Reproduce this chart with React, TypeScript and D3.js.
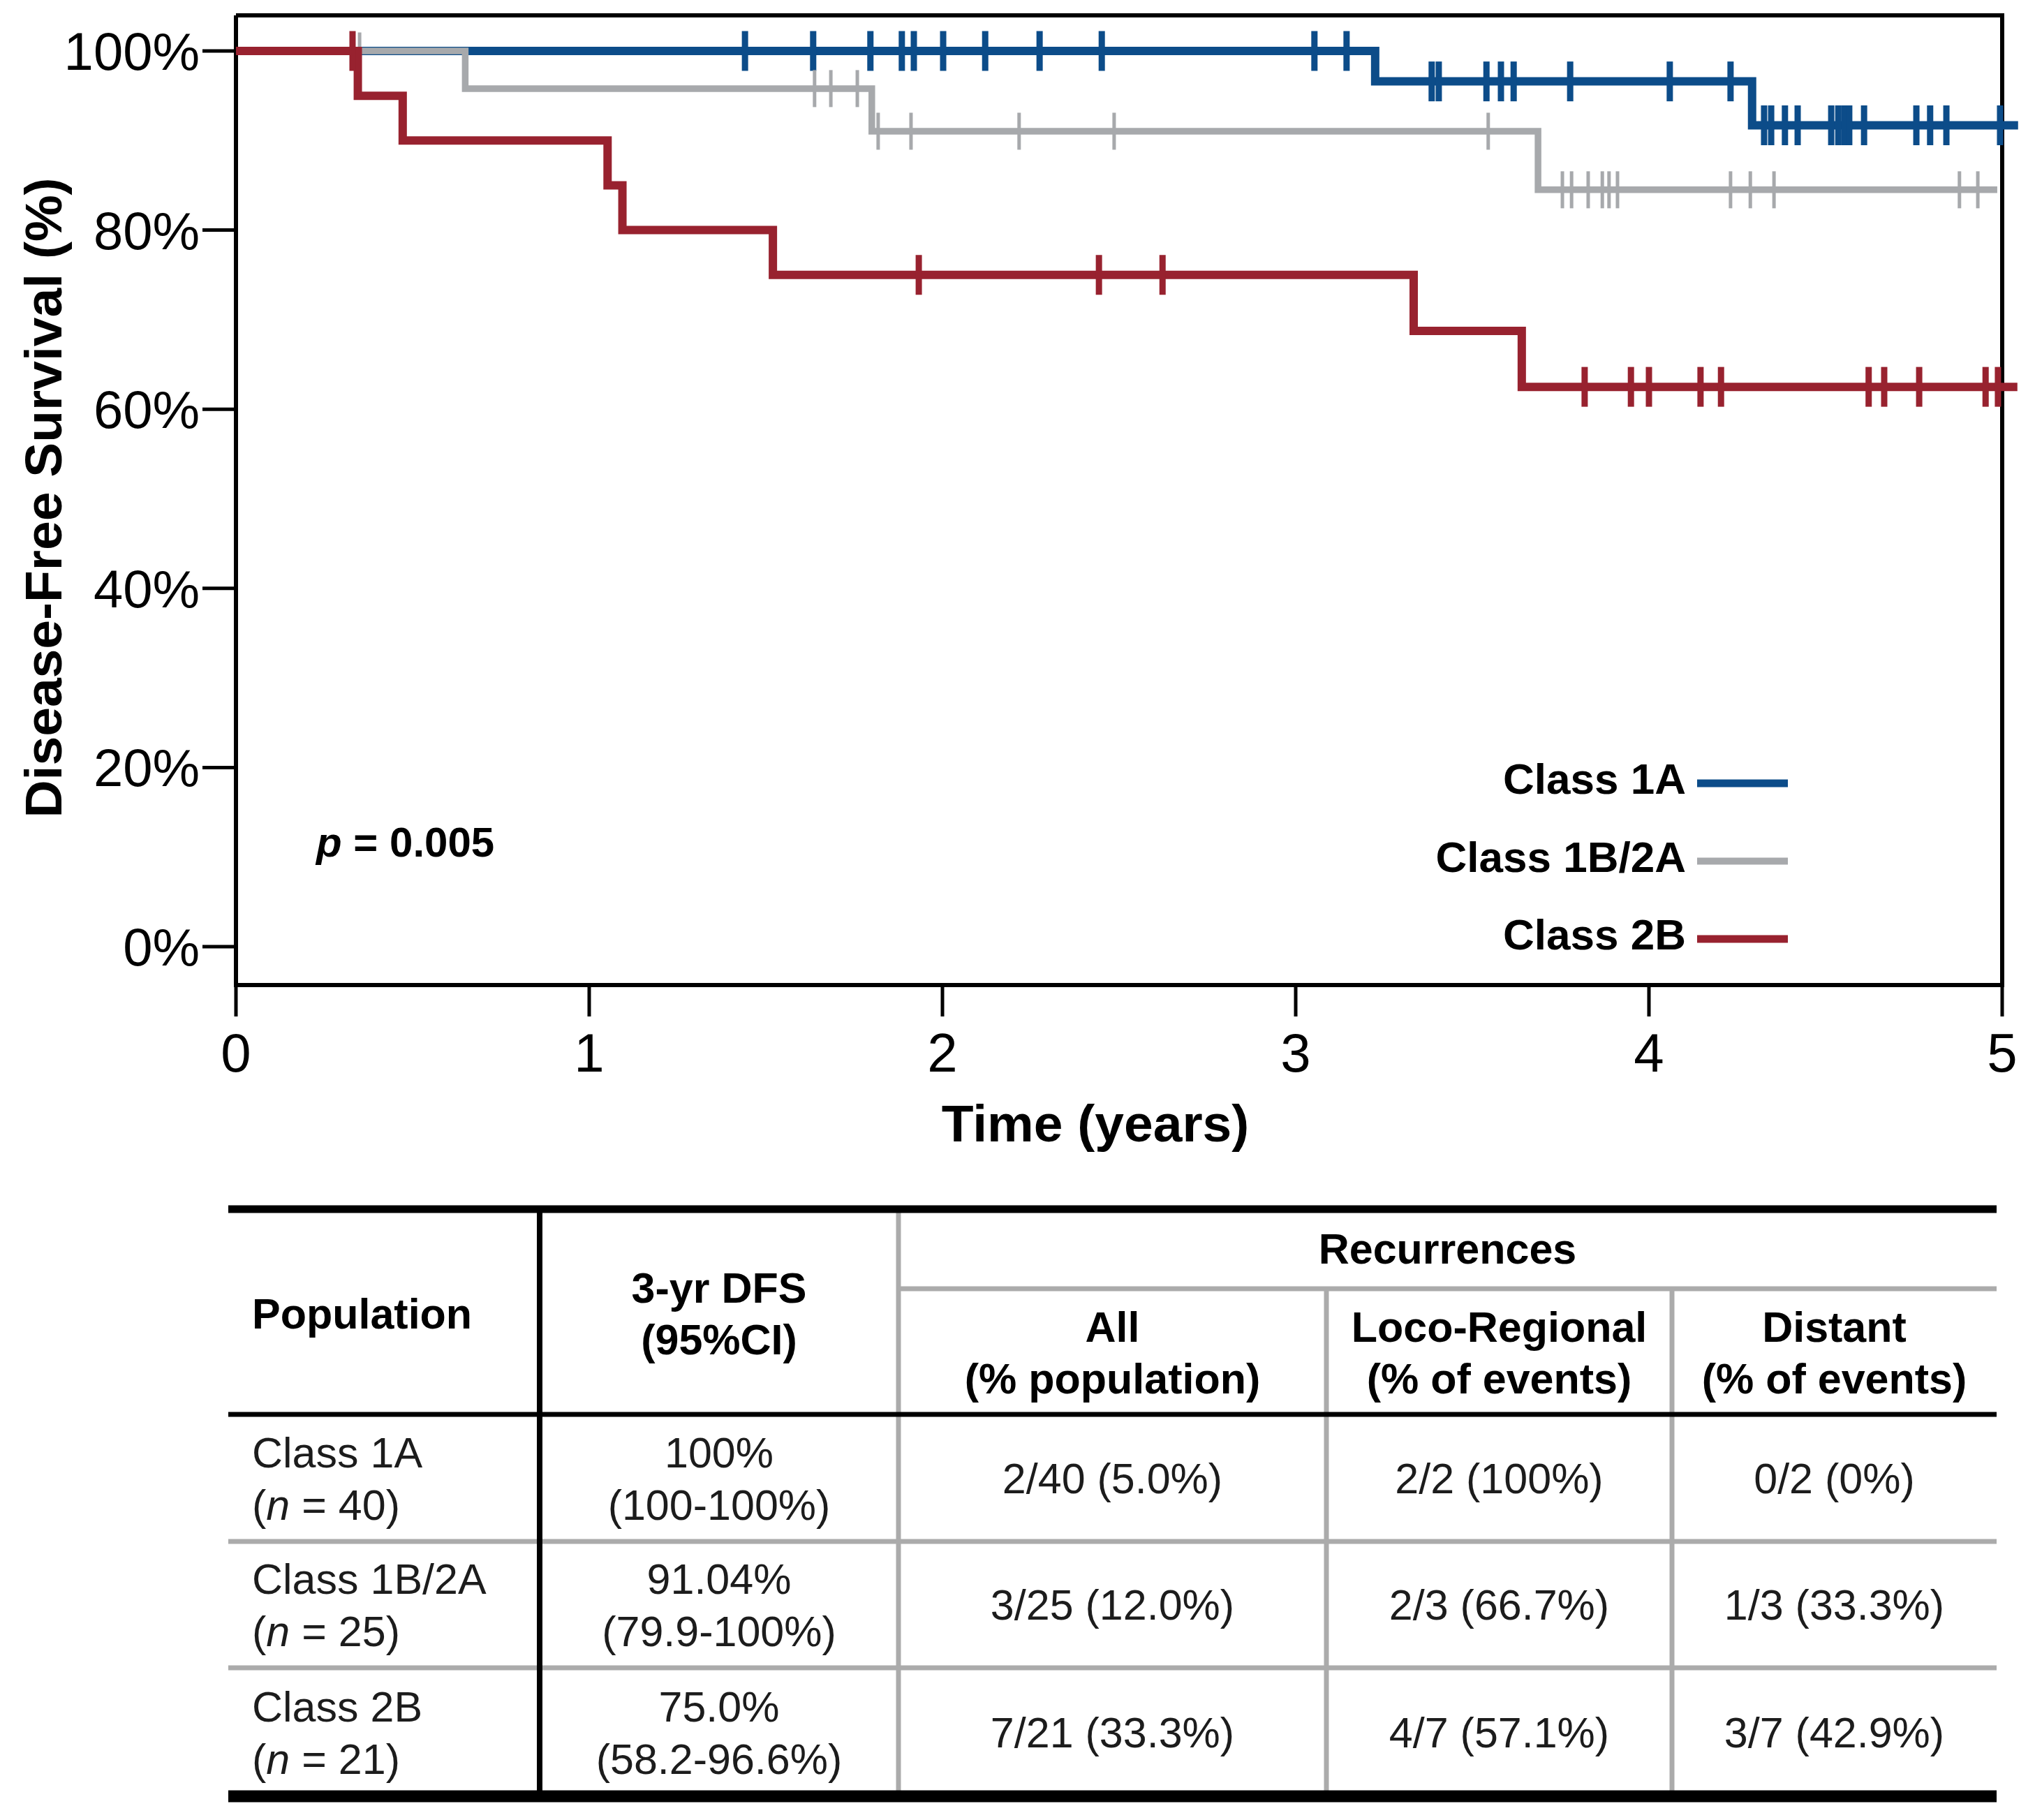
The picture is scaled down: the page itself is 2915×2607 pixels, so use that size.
import { useEffect } from 'react'
import * as d3 from 'd3'

// Kaplan-Meier steps: drop time (years) and survival (%) after it
const stepTimes1A = [0, 3.225, 4.292]
const stepSurv1A = [100, 96.6, 91.7]
const censor1A = [
  1.441, 1.634, 1.796, 1.885, 1.919, 2.002, 2.121, 2.275, 2.451, 3.053, 3.144,
  3.385, 3.405, 3.54, 3.581, 3.617, 3.777, 4.059, 4.231,
  4.326, 4.346, 4.385, 4.421, 4.516, 4.536, 4.553, 4.567, 4.609, 4.757, 4.796, 4.842, 4.994
]
const end1A = 5.045

const stepTimes1B = [0, 0.649, 1.8, 3.686]
const stepSurv1B = [100, 95.8, 91.04, 84.5]
const censor1B = [
  0.35, 1.638, 1.684, 1.759, 1.818, 1.911, 2.217, 2.486, 3.545,
  3.755, 3.781, 3.828, 3.868, 3.887, 3.911, 4.231, 4.287, 4.354, 4.879, 4.931
]
const end1B = 4.986

const stepTimes2B = [0, 0.345, 0.472, 1.052, 1.094, 1.52, 3.334, 3.64]
const stepSurv2B = [100, 95, 90, 85, 80, 75, 68.75, 62.5]
const censor2B = [
  0.33, 1.933, 2.443, 2.623, 3.818, 3.949, 4.0, 4.146, 4.204,
  4.622, 4.666, 4.765, 4.953, 4.988
]
const end2B = 5.043

const xTicks = [0, 1, 2, 3, 4, 5]
const yTicks = [0, 20, 40, 60, 80, 100]

const legendNames = ['Class 1A', 'Class 1B/2A', 'Class 2B']

// table
const populations = ['Class 1A', 'Class 1B/2A', 'Class 2B']
const populationN = ['40', '25', '21']
const dfs3yr = ['100%', '91.04%', '75.0%']
const dfsCI = ['(100-100%)', '(79.9-100%)', '(58.2-96.6%)']
const recAll = ['2/40 (5.0%)', '3/25 (12.0%)', '7/21 (33.3%)']
const recLoco = ['2/2 (100%)', '2/3 (66.7%)', '4/7 (57.1%)']
const recDistant = ['0/2 (0%)', '1/3 (33.3%)', '3/7 (42.9%)']

const FONT = '"Liberation Sans", Arial, sans-serif'
const BLUE = '#0c4c89'
const GRAY = '#a7a9ac'
const RED = '#98222f'
const TGRAY = '#ababab'

interface Series {
  times: number[]
  surv: number[]
  censor: number[]
  end: number
  color: string
  width: number
  tickW: number
  tickH: number
}

const series: Series[] = [
  { times: stepTimes1A, surv: stepSurv1A, censor: censor1A, end: end1A, color: BLUE, width: 12, tickW: 9, tickH: 57 },
  { times: stepTimes1B, surv: stepSurv1B, censor: censor1B, end: end1B, color: GRAY, width: 9.5, tickW: 5, tickH: 53 },
  { times: stepTimes2B, surv: stepSurv2B, censor: censor2B, end: end2B, color: RED, width: 12, tickW: 9, tickH: 57 }
]

const W = 2915
const H = 2607

export default function App() {
  useEffect(() => {
    document.body.style.margin = '0'
  }, [])

  const x = d3.scaleLinear().domain([0, 5]).range([338, 2868])
  const y = d3.scaleLinear().domain([0, 100]).range([1356, 73])
  const plotTop = 22
  const plotBottom = 1411

  const line = d3
    .line<[number, number]>()
    .x(d => x(d[0]))
    .y(d => y(d[1]))
    .curve(d3.curveStepAfter)

  const survAt = (s: Series, t: number) => {
    let v = s.surv[0]
    s.times.forEach((tt, i) => {
      if (tt <= t) v = s.surv[i]
    })
    return v
  }

  // table geometry
  const tL = 327
  const tR = 2860
  const colX = [327, 773, 1287, 1900, 2395, 2860]
  const tTop = 1732
  const subTop = 1846
  const headBottom = 2026
  const rowLines = [2026, 2208, 2389, 2573]
  const fs = 61
  const half = fs * 0.36
  const colC = (i: number) => (colX[i] + colX[i + 1]) / 2

  return (
    <svg width={W} height={H} viewBox={`0 0 ${W} ${H}`} style={{ display: 'block', background: '#fff' }} fontFamily={FONT}>
      <rect width={W} height={H} fill="#fff" />

      {/* frame */}
      <g stroke="#000" strokeWidth={6} fill="none">
        <line x1={x(0)} x2={x(5) + 3} y1={plotTop} y2={plotTop} />
        <line x1={x(5)} x2={x(5)} y1={plotTop} y2={plotBottom} />
        <line x1={x(0)} x2={x(0)} y1={plotTop} y2={plotBottom + 3} />
        <line x1={x(0) - 3} x2={x(5) + 3} y1={plotBottom} y2={plotBottom} />
      </g>

      {/* y axis */}
      {yTicks.map(t => (
        <g key={'y' + t}>
          <line x1={290} x2={x(0)} y1={y(t)} y2={y(t)} stroke="#000" strokeWidth={5} />
          <text x={286} y={y(t) + 27} textAnchor="end" fontSize={76} fill="#000">
            {t}%
          </text>
        </g>
      ))}

      {/* x axis */}
      {xTicks.map(t => (
        <g key={'x' + t}>
          <line x1={x(t)} x2={x(t)} y1={plotBottom} y2={1456} stroke="#000" strokeWidth={5} />
          <text x={x(t)} y={1535} textAnchor="middle" fontSize={78} fill="#000">
            {t}
          </text>
        </g>
      ))}

      <text x={1569} y={1635} textAnchor="middle" fontSize={75} fontWeight="bold" fill="#000">
        Time (years)
      </text>
      <text
        transform={`translate(88,713) rotate(-90)`}
        textAnchor="middle"
        fontSize={75}
        fontWeight="bold"
        fill="#000"
      >
        Disease-Free Survival (%)
      </text>

      <text x={453} y={1227} fontSize={60} fontWeight="bold" fill="#000">
        <tspan fontStyle="italic">p</tspan>
        <tspan> = 0.005</tspan>
      </text>

      {/* curves */}
      {series.map((s, i) => {
        const pts: [number, number][] = s.times.map((t, j) => [t, s.surv[j]] as [number, number])
        pts.push([s.end, s.surv[s.surv.length - 1]])
        return (
          <g key={'s' + i}>
            <path d={line(pts) || ''} fill="none" stroke={s.color} strokeWidth={s.width} strokeLinejoin="miter" />
            {s.censor.map((c, k) => (
              <rect
                key={k}
                x={x(c) - s.tickW / 2}
                y={y(survAt(s, c)) - s.tickH / 2}
                width={s.tickW}
                height={s.tickH}
                fill={s.color}
              />
            ))}
          </g>
        )
      })}

      {/* legend */}
      {legendNames.map((n, i) => {
        const ly = 1122 + i * 111.5
        return (
          <g key={'l' + i}>
            <text x={2415} y={ly + 15} textAnchor="end" fontSize={62} fontWeight="bold" fill="#000">
              {n}
            </text>
            <line x1={2431} x2={2561} y1={ly} y2={ly} stroke={series[i].color} strokeWidth={i === 1 ? 10 : 11} />
          </g>
        )
      })}

      {/* table lines */}
      <g>
        {rowLines.slice(1, 3).map((ry, i) => (
          <line key={'rl' + i} x1={tL} x2={tR} y1={ry} y2={ry} stroke={TGRAY} strokeWidth={7} />
        ))}
        <line x1={colX[2]} x2={tR} y1={subTop} y2={subTop} stroke={TGRAY} strokeWidth={7} />
        <line x1={colX[2]} x2={colX[2]} y1={tTop} y2={rowLines[3]} stroke={TGRAY} strokeWidth={7} />
        <line x1={colX[3]} x2={colX[3]} y1={subTop} y2={rowLines[3]} stroke={TGRAY} strokeWidth={7} />
        <line x1={colX[4]} x2={colX[4]} y1={subTop} y2={rowLines[3]} stroke={TGRAY} strokeWidth={7} />
        <line x1={colX[1]} x2={colX[1]} y1={tTop} y2={rowLines[3]} stroke="#000" strokeWidth={8} />
        <line x1={tL} x2={tR} y1={tTop} y2={tTop} stroke="#000" strokeWidth={11} />
        <line x1={tL} x2={tR} y1={headBottom} y2={headBottom} stroke="#000" strokeWidth={7} />
        <line x1={tL} x2={tR} y1={rowLines[3]} y2={rowLines[3]} stroke="#000" strokeWidth={17} />
      </g>

      {/* table header */}
      <g fontSize={fs} fontWeight="bold" fill="#000">
        <text x={361} y={1881 + half}>Population</text>
        <text x={colC(1)} y={1844 + half} textAnchor="middle">3-yr DFS</text>
        <text x={colC(1)} y={1918 + half} textAnchor="middle">(95%CI)</text>
        <text x={(colX[2] + tR) / 2} y={1788 + half} textAnchor="middle">Recurrences</text>
        <text x={colC(2)} y={1900 + half} textAnchor="middle">All</text>
        <text x={colC(2)} y={1974 + half} textAnchor="middle">(% population)</text>
        <text x={colC(3)} y={1900 + half} textAnchor="middle">Loco-Regional</text>
        <text x={colC(3)} y={1974 + half} textAnchor="middle">(% of events)</text>
        <text x={colC(4)} y={1900 + half} textAnchor="middle">Distant</text>
        <text x={colC(4)} y={1974 + half} textAnchor="middle">(% of events)</text>
      </g>

      {/* table body */}
      <g fontSize={fs} fill="#1c1c1c">
        {populations.map((p, i) => {
          const cy = (rowLines[i] + rowLines[i + 1]) / 2
          return (
            <g key={'r' + i}>
              <text x={361} y={cy - 37 + half}>{p}</text>
              <text x={361} y={cy + 38 + half}>
                (<tspan fontStyle="italic">n</tspan> = {populationN[i]})
              </text>
              <text x={colC(1)} y={cy - 37 + half} textAnchor="middle">{dfs3yr[i]}</text>
              <text x={colC(1)} y={cy + 38 + half} textAnchor="middle">{dfsCI[i]}</text>
              <text x={colC(2)} y={cy + half} textAnchor="middle">{recAll[i]}</text>
              <text x={colC(3)} y={cy + half} textAnchor="middle">{recLoco[i]}</text>
              <text x={colC(4)} y={cy + half} textAnchor="middle">{recDistant[i]}</text>
            </g>
          )
        })}
      </g>
    </svg>
  )
}
